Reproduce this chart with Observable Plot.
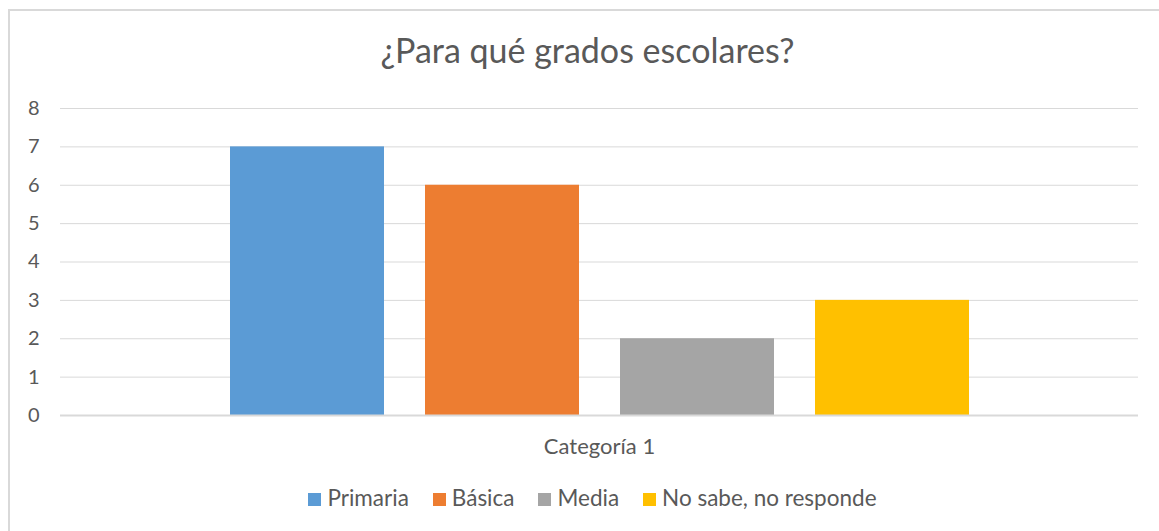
<!DOCTYPE html>
<html><head><meta charset="utf-8">
<script src="https://cdn.jsdelivr.net/npm/d3@7"></script>
<script src="https://cdn.jsdelivr.net/npm/@observablehq/plot@0.6"></script>
<style>
body{margin:0;background:#fff;font-family:Lato,"Open Sans",sans-serif;color:#595959;overflow:hidden;}
#frame{position:absolute;left:8px;top:9px;width:1170px;height:540px;border:2px solid #d9d9d9;box-sizing:border-box;}
#title{position:absolute;left:0;width:1175px;top:30px;text-align:center;font-size:34px;color:#595959;line-height:40px;}
#chart{position:absolute;left:0;top:90px;}
#legend{position:absolute;left:0;width:1185px;top:484px;text-align:center;font-size:22.5px;color:#595959;line-height:28px;white-space:nowrap;}
#legend span.item{display:inline-block;margin:0 12px;}
#legend span.sw{display:inline-block;width:13px;height:13px;margin-right:6px;vertical-align:0px;}
</style></head>
<body>
<div id="frame"></div>
<div id="title"></div>
<div id="chart"></div>
<div id="legend"></div>
<script>
const titleText = "¿Para qué grados escolares?";
const categories = ["Categoría 1"];
const series = ["Primaria", "Básica", "Media", "No sabe, no responde"];
const values = [7, 6, 2, 3];
const colors = ["#5B9BD5", "#ED7D31", "#A5A5A5", "#FFC000"];
const yTicks = [0, 1, 2, 3, 4, 5, 6, 7, 8];

const data = series.map((s, i) => ({category: categories[0], series: s, value: values[i]}));

document.getElementById("title").textContent = titleText;

const chart = Plot.plot({
  width: 1159,
  height: 370,
  marginLeft: 60,
  marginRight: 21,
  marginTop: 18,
  marginBottom: 45,
  style: {fontFamily: "Lato, 'Open Sans', sans-serif", fontSize: "20px", color: "#595959", background: "transparent", overflow: "visible"},
  fx: {domain: categories, padding: 0, label: null, axis: null},
  x: {domain: series, paddingInner: 0.212, paddingOuter: 0.863, axis: null},
  y: {domain: [0, 8], ticks: yTicks, label: null},
  color: {domain: series, range: colors},
  marks: [
    Plot.ruleY(yTicks.filter(d => d > 0), {stroke: "#d9d9d9", strokeWidth: 1, strokeOpacity: 1}),
    Plot.barY(data, {fx: "category", x: "series", y: "value", fill: "series"}),
    Plot.ruleY([0], {stroke: "#d9d9d9", strokeWidth: 2, strokeOpacity: 1}),
    Plot.axisY({ticks: yTicks, tickSize: 0, tickPadding: 21, fontSize: 20, fill: "#595959", label: null}),
    Plot.axisFx({anchor: "bottom", tickSize: 0, tickPadding: 23, fontSize: 22, fill: "#595959", label: null})
  ]
});
document.getElementById("chart").appendChild(chart);

const legend = document.getElementById("legend");
series.forEach((s, i) => {
  const item = document.createElement("span");
  item.className = "item";
  const sw = document.createElement("span");
  sw.className = "sw";
  sw.style.background = colors[i];
  item.appendChild(sw);
  item.appendChild(document.createTextNode(s));
  legend.appendChild(item);
});
</script>
</body></html>
